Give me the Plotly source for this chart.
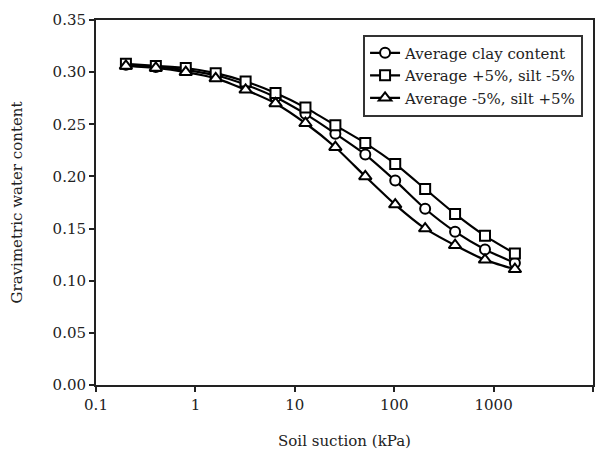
import plotly.graph_objects as go

suction_kpa = [0.2, 0.4, 0.8, 1.6, 3.2, 6.4, 12.8, 25.6, 51.2, 102.4, 204.8, 409.6, 819.2, 1638.4]
avg_clay = [0.307, 0.305, 0.302, 0.297, 0.288, 0.276, 0.260, 0.241, 0.221, 0.196, 0.169, 0.147, 0.130, 0.117]
clay_plus5 = [0.308, 0.306, 0.304, 0.299, 0.291, 0.280, 0.266, 0.249, 0.232, 0.212, 0.188, 0.164, 0.143, 0.126]
clay_minus5 = [0.306, 0.304, 0.300, 0.294, 0.283, 0.270, 0.251, 0.228, 0.200, 0.173, 0.150, 0.134, 0.120, 0.111]

series = [
    ("Average clay content", avg_clay, "circle"),
    ("Average +5%, silt -5%", clay_plus5, "square"),
    ("Average -5%, silt +5%", clay_minus5, "triangle-up"),
]
x_ticks = [0.1, 1, 10, 100, 1000, 10000]
x_tick_labels = ["0.1", "1", "10", "100", "1000", "10000"]
y_ticks = [0.0, 0.05, 0.10, 0.15, 0.20, 0.25, 0.30, 0.35]

FONT = "DejaVu Serif"
fig = go.Figure()
for name, vals, sym in series:
    fig.add_trace(go.Scatter(
        x=suction_kpa, y=vals, name=name, mode="lines+markers",
        line=dict(color="black", width=2.2, shape="spline", smoothing=0.6),
        marker=dict(symbol=sym, size=10 if sym != "triangle-up" else 11, color="white",
                    line=dict(color="black", width=2)),
    ))

fig.update_layout(
    width=607, height=445,
    margin=dict(l=88, r=22, t=12, b=68),
    paper_bgcolor="white", plot_bgcolor="white",
    font=dict(family=FONT, size=14, color="#222"),
    showlegend=True,
    legend=dict(x=0.98, y=0.96, xanchor="right", yanchor="top",
                bgcolor="white", bordercolor="#333", borderwidth=2,
                font=dict(family=FONT, size=15, color="#222"),
                tracegroupgap=0, itemwidth=30),
    xaxis=dict(type="log", range=[-1, 4], tickvals=x_ticks, ticktext=x_tick_labels,
               automargin=False,
               showgrid=False, zeroline=False, showline=True, linecolor="#222", linewidth=2,
               mirror=True, ticks="outside", ticklen=5, tickcolor="#222", tickwidth=1.5,
               tickfont=dict(family=FONT, size=15, color="#222"),
               title=dict(text="Soil suction (kPa)", font=dict(family=FONT, size=15, color="#222"), standoff=22)),
    yaxis=dict(range=[0, 0.35], tickvals=y_ticks, tickformat=".2f",
               automargin=False,
               showgrid=False, zeroline=False, showline=True, linecolor="#222", linewidth=2,
               mirror=True, ticks="outside", ticklen=5, tickcolor="#222", tickwidth=1.5,
               tickfont=dict(family=FONT, size=15, color="#222"),
               title=dict(text="Gravimetric water content", font=dict(family=FONT, size=15, color="#222"), standoff=28)),
)

fig.write_html("out.html")
